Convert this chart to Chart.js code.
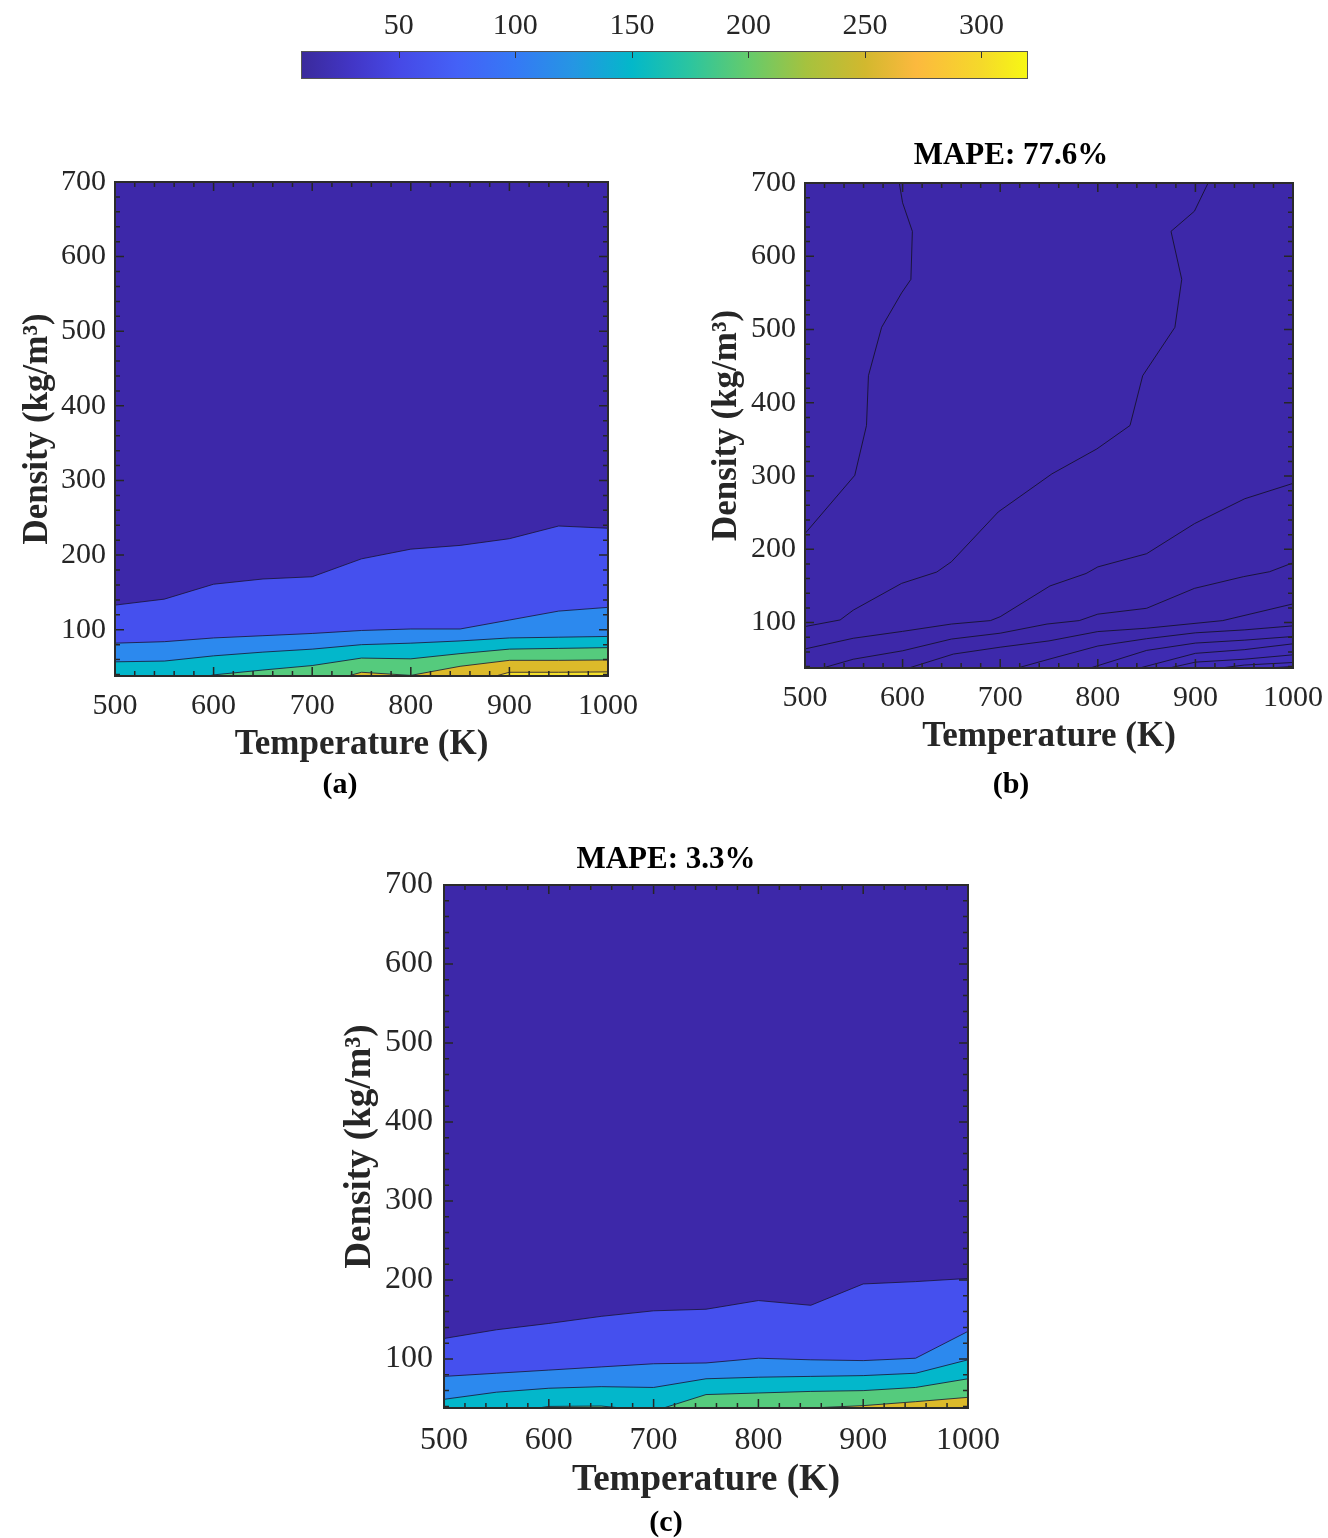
<!DOCTYPE html>
<html lang="en">
<head>
<meta charset="UTF-8">
<title>Density contours | reference vs prediction</title>
<script src="https://cdn.jsdelivr.net/npm/chart.js"></script>
<style>
  body { margin: 0; background: #fff; font-family: "Liberation Serif", "Times New Roman", serif; }
  #page { position: relative; width: 1328px; height: 1538px; overflow: hidden; }
  .box { position: absolute; }
  .lbl { position: absolute; font-weight: bold; color: #000; line-height: 1; white-space: nowrap; transform: translateX(-50%); }
</style>
</head>
<body>
<div id="page">
  <div class="box" style="left:290px;top:0;width:760px;height:95px"><canvas id="cbar"></canvas></div>
  <div class="box" style="left:0;top:130px;width:650px;height:680px"><canvas id="chartA"></canvas></div>
  <div class="box" style="left:680px;top:130px;width:658px;height:680px"><canvas id="chartB"></canvas></div>
  <div class="box" style="left:320px;top:840px;width:700px;height:680px"><canvas id="chartC"></canvas></div>

  <div class="lbl" style="left:1011px;top:138px;font-size:31px">MAPE: 77.6%</div>
  <div class="lbl" style="left:666px;top:842px;font-size:31px">MAPE: 3.3%</div>
  <div class="lbl" style="left:340px;top:768px;font-size:30px">(a)</div>
  <div class="lbl" style="left:1011px;top:768px;font-size:30px">(b)</div>
  <div class="lbl" style="left:666px;top:1506px;font-size:30px">(c)</div>
</div>

<script>
    // ---- data ----
    const temps = [500, 550, 600, 650, 700, 750, 800, 850, 900, 950, 1000];
    const xTicks = [500, 600, 700, 800, 900, 1000];
    const yTicks = [100, 200, 300, 400, 500, 600, 700];
    const cbTicks = [50, 100, 150, 200, 250, 300];
    const cbRange = [8, 320];

    // (a) reference: density where each contour level is crossed (0 = below the axis)
    const refLevel1 = [133, 141, 161, 168, 171, 195, 208, 213, 222, 239, 236];
    const refLevel2 = [82, 84, 89, 92, 95, 99, 101, 101, 113, 125, 130];
    const refLevel3 = [57, 58, 65, 70, 74, 80, 82, 85, 89, 90, 91];
    const refLevel4 = [0, 25, 39.5, 46, 52, 62, 61, 68, 74, 75, 76];
    const refLevel5 = [0, 0, 0, 0, 25, 43, 38.8, 51, 59, 59, 59.5];
    const refLevel6 = [0, 0, 0, 0, 0, 0, 0, 25, 43, 43, 43.5];

    // (c) good model
    const goodLevel1 = [126, 137, 145, 154, 161, 163, 174, 168, 195, 198, 202];
    const goodLevel2 = [78, 82, 86, 90, 94, 95, 101, 99, 98, 101, 135];
    const goodLevel3 = [49, 58, 63, 65, 64, 75, 77, 78, 79, 82, 99];
    const goodLevel4 = [0, 30, 40, 40.5, 34, 55, 57, 59, 60, 64, 75];
    const goodLevel5 = [0, 0, 0, 0, 0, 0, 20, 38, 41, 46, 51.5];

    // (b) poor model: contour lines as (T, density) vertex lists
    const bA_T = [596.6, 600, 610, 608.5, 599, 578.5, 565, 563, 551, 500];
    const bA_D = [700, 673, 634, 568.5, 550, 503, 437, 369, 301, 221.5];
    const bB_T = [913, 899, 875, 886, 879, 846, 833, 799, 753, 698, 650, 635, 599, 549.5, 536, 500];
    const bB_D = [700, 661.5, 634, 568.5, 503, 437, 369, 337, 303, 251, 183, 169, 153.5, 117, 103.6, 94.6];
    const bC_T = [500, 549.5, 600, 650, 690, 700, 751, 788, 800, 850, 899, 950.5, 1000];
    const bC_D = [64, 78.6, 88, 98, 102.7, 108, 150, 167, 176, 194, 235, 269, 290];
    const bD_T = [505, 549.5, 600, 650, 700, 748, 781, 800, 850, 899, 949, 976, 1000];
    const bD_D = [33, 50, 61.5, 77.5, 85.5, 98, 102.7, 111.5, 119.5, 146.7, 162.6, 169.4, 181.6];
    const bE_T = [604, 652, 700, 750, 800, 850, 928, 1000];
    const bE_D = [37, 57, 66.4, 75, 87.7, 92.3, 102.7, 125.5];
    const bF_T = [715, 750, 800, 850, 900, 950, 1000];
    const bF_D = [37, 50, 68, 78, 86, 90, 95.5];
    const bG_T = [790, 850, 900, 950, 1000];
    const bG_D = [37, 62, 72, 76, 81];
    const bH_T = [840, 900, 950, 1000];
    const bH_D = [37, 58, 63, 71];
    const bI_T = [870, 900, 950, 1000];
    const bI_D = [37, 46, 50, 56];
    const bJ_T = [920, 950, 1000];
    const bJ_D = [37, 42, 45.5];
    const bK_T = [960, 1000];
    const bK_D = [37, 40];

    // ---- styles ----
    const baseColor = '#3D28A9';
    const bandColors = ['#4550EE', '#2C89EE', '#03B7CB', '#55CB7D', '#DCBA2A', '#F5E12B'];
    const lowShades = ['#3D29AB', '#3E2AAE', '#3E2BB1', '#3F2CB4', '#3F2DB7', '#402EBA', '#4130BD'];
    const lineColor = 'rgba(25, 20, 50, 0.8)';
    const textColor = '#262626';
    const parula = [
        [8, '#3A2A9B'], [30, '#4236C6'], [50, '#4649E6'], [75, '#4461F7'], [100, '#3579F5'],
        [125, '#2596E3'], [150, '#03B8C9'], [175, '#2CC59F'], [200, '#65CB6C'], [225, '#A6C23E'],
        [250, '#D2B82E'], [272, '#FCB93E'], [300, '#F5D92A'], [320, '#F7F814']
    ];

    Chart.defaults.font.family = '"Liberation Serif", "Times New Roman", serif';
    Chart.defaults.color = textColor;

    const areaFill = {
        id: 'areaFill',
        beforeDatasetsDraw(chart) {
            const a = chart.chartArea;
            chart.ctx.save();
            chart.ctx.fillStyle = baseColor;
            chart.ctx.fillRect(a.left, a.top, a.width, a.height);
            chart.ctx.restore();
        }
    };

    // inward ticks on all four sides, like the original figure
    const boxTicks = {
        id: 'boxTicks',
        afterDatasetsDraw(chart) {
            const { ctx, chartArea: a, scales: { x, y } } = chart;
            ctx.save();
            ctx.strokeStyle = textColor;
            ctx.lineWidth = 1.5;
            ctx.beginPath();
            for (let v = x.min; v <= x.max; v += 20) {
                const p = x.getPixelForValue(v);
                const len = v % 100 === 0 ? 9 : 5;
                ctx.moveTo(p, a.bottom); ctx.lineTo(p, a.bottom - len);
                ctx.moveTo(p, a.top); ctx.lineTo(p, a.top + len);
            }
            for (let v = 40; v <= y.max; v += 20) {
                const p = y.getPixelForValue(v);
                const len = v % 100 === 0 ? 9 : 5;
                ctx.moveTo(a.left, p); ctx.lineTo(a.left + len, p);
                ctx.moveTo(a.right, p); ctx.lineTo(a.right - len, p);
            }
            ctx.stroke();
            ctx.lineWidth = 2;
            ctx.strokeStyle = '#2b2b2b';
            ctx.strokeRect(a.left, a.top, a.width, a.height);
            ctx.restore();
        }
    };

    function pts(ts, ds) {
        return ts.map((t, i) => ({ x: t, y: ds[i] }));
    }

    function contourChart(id, datasets, lay) {
        return new Chart(document.getElementById(id), {
            type: 'line',
            data: { datasets: datasets },
            options: {
                responsive: true,
                maintainAspectRatio: false,
                animation: false,
                events: [],
                layout: { padding: lay.padding },
                plugins: { legend: { display: false }, tooltip: { enabled: false } },
                scales: {
                    x: {
                        type: 'linear', min: 500, max: 1000,
                        afterBuildTicks: s => { s.ticks = xTicks.map(v => ({ value: v })); },
                        afterFit: s => { s.height = lay.xHeight; },
                        ticks: { font: { size: lay.tick }, padding: lay.xPad, maxRotation: 0, callback: v => String(v) },
                        grid: { display: false, drawTicks: false },
                        border: { display: false },
                        title: {
                            display: true, text: 'Temperature (K)', color: textColor,
                            font: { size: lay.title, weight: 'bold' },
                            padding: { top: 0, bottom: lay.xTitlePad }
                        }
                    },
                    y: {
                        type: 'linear', min: 38, max: 700,
                        afterBuildTicks: s => { s.ticks = yTicks.map(v => ({ value: v })); },
                        afterFit: s => { s.width = lay.yWidth; },
                        ticks: { font: { size: lay.tick }, padding: lay.yPad, callback: v => String(v) },
                        grid: { display: false, drawTicks: false },
                        border: { display: false },
                        title: {
                            display: true, text: 'Density (kg/m³)', color: textColor,
                            font: { size: lay.title, weight: 'bold' },
                            padding: { top: lay.yTitlePad, bottom: 0 }
                        }
                    }
                }
            },
            plugins: [areaFill, boxTicks]
        });
    }

    function bandSets(levels) {
        return levels.map((lv, i) => ({
            data: pts(temps, lv),
            borderColor: lineColor,
            borderWidth: 1,
            pointRadius: 0,
            tension: 0,
            fill: 'start',
            backgroundColor: bandColors[i],
            order: -i,
            clip: 0
        }));
    }

    function lineSets(lines) {
        return lines.map((ln, i) => ({
            data: pts(ln[0], ln[1]),
            borderColor: 'rgba(20, 16, 40, 0.85)',
            borderWidth: 1,
            pointRadius: 0,
            tension: 0,
            fill: ln[2] ? 'start' : false,
            backgroundColor: ln[2] || 'transparent',
            order: -i,
            clip: 0
        }));
    }

    contourChart('chartA',
        bandSets([refLevel1, refLevel2, refLevel3, refLevel4, refLevel5, refLevel6]),
        { padding: { left: 0, right: 40, top: 52, bottom: 0 }, xHeight: 134, yWidth: 115,
          tick: 30, title: 35, xPad: 12, yPad: 9, xTitlePad: 44, yTitlePad: 17 });

    contourChart('chartB',
        lineSets([
            [bA_T, bA_D], [bB_T, bB_D], [bC_T, bC_D], [bD_T, bD_D],
            [bE_T, bE_D, lowShades[0]], [bF_T, bF_D, lowShades[1]], [bG_T, bG_D, lowShades[2]],
            [bH_T, bH_D, lowShades[3]], [bI_T, bI_D, lowShades[4]], [bJ_T, bJ_D, lowShades[5]],
            [bK_T, bK_D, lowShades[6]]
        ]),
        { padding: { left: 0, right: 45, top: 53, bottom: 0 }, xHeight: 142, yWidth: 125,
          tick: 30, title: 35, xPad: 12, yPad: 9, xTitlePad: 52, yTitlePad: 26 });

    contourChart('chartC',
        bandSets([goodLevel1, goodLevel2, goodLevel3, goodLevel4, goodLevel5]),
        { padding: { left: 0, right: 52, top: 45, bottom: 0 }, xHeight: 112, yWidth: 124,
          tick: 32, title: 37, xPad: 13, yPad: 11, xTitlePad: 17, yTitlePad: 18 });

    // colour bar
    const cbarTicks = {
        id: 'cbarTicks',
        afterDatasetsDraw(chart) {
            const { ctx, chartArea: a, scales: { x } } = chart;
            ctx.save();
            ctx.strokeStyle = '#333';
            ctx.lineWidth = 1;
            ctx.beginPath();
            cbTicks.forEach(v => {
                const p = Math.round(x.getPixelForValue(v)) + 0.5;
                ctx.moveTo(p, a.top); ctx.lineTo(p, a.top + 7);
            });
            ctx.stroke();
            ctx.strokeStyle = '#555';
            ctx.strokeRect(a.left + 0.5, a.top + 0.5, a.width - 1, a.height - 1);
            ctx.restore();
        }
    };

    new Chart(document.getElementById('cbar'), {
        type: 'bar',
        data: {
            labels: [''],
            datasets: [{
                data: [cbRange],
                borderWidth: 0,
                barPercentage: 1,
                categoryPercentage: 1,
                backgroundColor: (c) => {
                    const chart = c.chart;
                    if (!chart.chartArea) return parula[0][1];
                    const x = chart.scales.x;
                    const x0 = x.getPixelForValue(cbRange[0]);
                    const x1 = x.getPixelForValue(cbRange[1]);
                    const g = chart.ctx.createLinearGradient(x0, 0, x1, 0);
                    parula.forEach(s => g.addColorStop((s[0] - cbRange[0]) / (cbRange[1] - cbRange[0]), s[1]));
                    return g;
                }
            }]
        },
        options: {
            indexAxis: 'y',
            responsive: true,
            maintainAspectRatio: false,
            animation: false,
            events: [],
            layout: { padding: { left: 11, right: 22, top: 0, bottom: 16 } },
            plugins: { legend: { display: false }, tooltip: { enabled: false } },
            scales: {
                x: {
                    type: 'linear', position: 'top', min: cbRange[0], max: cbRange[1],
                    afterBuildTicks: s => { s.ticks = cbTicks.map(v => ({ value: v })); },
                    afterFit: s => { s.height = 51; },
                    ticks: { font: { size: 30 }, padding: 7, maxRotation: 0, callback: v => String(v) },
                    grid: { display: false, drawTicks: false },
                    border: { display: false }
                },
                y: { display: false }
            }
        },
        plugins: [cbarTicks]
    });
</script>
</body>
</html>
